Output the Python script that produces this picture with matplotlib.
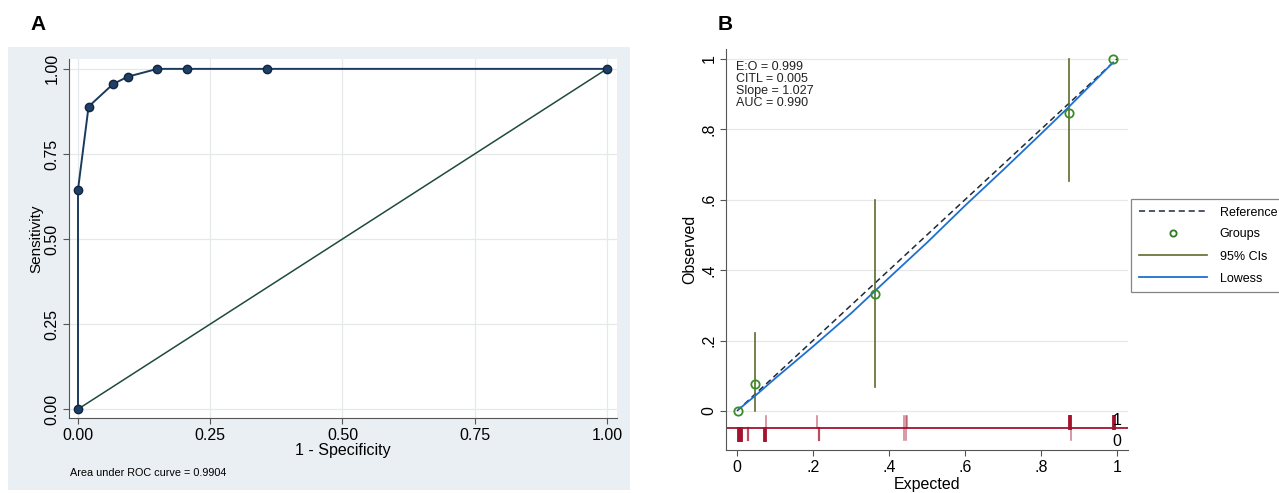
import matplotlib.pyplot as plt
from matplotlib.patches import Rectangle
from matplotlib.lines import Line2D

plt.rcParams['font.family'] = ['Liberation Sans', 'DejaVu Sans']

# ROC curve (panel A)
fpr = [0.0, 0.0, 0.020, 0.066, 0.094, 0.150, 0.207, 0.358, 1.0]
tpr = [0.0, 0.645, 0.889, 0.955, 0.977, 1.0, 1.0, 1.0, 1.0]
auc_text = 'Area under ROC curve = 0.9904'

# calibration (panel B)
grp_x = [0.003, 0.047, 0.362, 0.873, 0.990]
grp_y = [0.0, 0.077, 0.333, 0.846, 1.0]
ci_lo = [None, 0.0, 0.067, 0.652, None]
ci_hi = [None, 0.222, 0.600, 1.0, None]
lowess_x = [0.005, 0.05, 0.1, 0.2, 0.3, 0.4, 0.5, 0.6, 0.7, 0.8, 0.87, 0.99]
lowess_y = [0.005, 0.045, 0.092, 0.183, 0.277, 0.378, 0.478, 0.583, 0.684, 0.787, 0.860, 0.990]
rug1_x = [0.077, 0.210, 0.440, 0.444, 0.448, 0.875, 0.877, 0.990, 0.993]
rug1_n = [1, 1, 1, 1, 1, 3, 3, 3, 3]
rug0_x = [0.002, 0.005, 0.008, 0.011, 0.030, 0.072, 0.074, 0.215, 0.440, 0.446, 0.879]
rug0_n = [3, 3, 3, 3, 2, 3, 3, 2, 1, 1, 1]
stats_text = 'E:O = 0.999\nCITL = 0.005\nSlope = 1.027\nAUC = 0.990'
ticks_b = [0, 0.2, 0.4, 0.6, 0.8, 1.0]
ticklabels_b = ['0', '.2', '.4', '.6', '.8', '1']

fig = plt.figure(figsize=(12.79, 4.93), dpi=100)

# light graph region behind panel A
fig.patches.append(Rectangle((8 / 1279, 1 - 490 / 493), 622 / 1279, 443 / 493,
                             transform=fig.transFigure, facecolor='#eaeff3',
                             edgecolor='none', zorder=-10))

# ---- panel A
ax = fig.add_axes([69 / 1279, 1 - 418 / 493, 548 / 1279, 359 / 493])
ax.set_facecolor('white')
ax.set_xlim(-0.017, 1.019)
ax.set_ylim(-0.026, 1.029)
ticks_a = [0, 0.25, 0.5, 0.75, 1.0]
ax.set_xticks(ticks_a)
ax.set_yticks(ticks_a)
ax.set_xticklabels(['%.2f' % t for t in ticks_a], fontsize=11.5)
ax.set_yticklabels(['%.2f' % t for t in ticks_a], fontsize=11.5, rotation=90, va='center')
ax.grid(color='#e6e9ea', linewidth=0.9)
ax.set_axisbelow(True)
for s in ['top', 'right']:
    ax.spines[s].set_visible(False)
for s in ['left', 'bottom']:
    ax.spines[s].set_color('#555555')
ax.tick_params(length=4, color='#555555', pad=3)
ax.plot([0, 1], [0, 1], color='#1f4a3e', linewidth=1.1)
ax.plot(fpr, tpr, color='#1b3a5e', linewidth=1.4, marker='o', markersize=6,
        markerfacecolor='#1f3f66', markeredgecolor='#102640', zorder=3)
ax.set_xlabel('1 - Specificity', fontsize=11.5, labelpad=0)
ax.set_ylabel('Sensitivity', fontsize=11, labelpad=1)
fig.text(70 / 1279, 1 - 473 / 493, auc_text, fontsize=7.8, va='center')
fig.text(30 / 1279, 1 - 24 / 493, 'A', fontsize=15, fontweight='bold', va='center')

# ---- panel B
bx = fig.add_axes([726 / 1279, 1 - 450 / 493, 402 / 1279, 401 / 493])
bx.set_xlim(-0.029, 1.029)
bx.set_ylim(-0.111, 1.028)
bx.set_xticks(ticks_b)
bx.set_xticklabels(ticklabels_b, fontsize=11.5)
bx.set_yticks(ticks_b)
bx.set_yticklabels(ticklabels_b, fontsize=11.5, rotation=90, va='center')
bx.yaxis.grid(True, color='#e8e8e8', linewidth=0.9)
bx.set_axisbelow(True)
for s in ['top', 'right']:
    bx.spines[s].set_visible(False)
for s in ['left', 'bottom']:
    bx.spines[s].set_color('#555555')
bx.tick_params(length=4, color='#555555', pad=3)

bx.plot([0, 1], [0, 1], color='#1c2b3a', linewidth=1.1, linestyle=(0, (4, 2.5)))
for x, lo, hi in zip(grp_x, ci_lo, ci_hi):
    if lo is not None:
        bx.plot([x, x], [lo, hi], color='#5d6b30', linewidth=1.2)
bx.plot(lowess_x, lowess_y, color='#1f70d0', linewidth=1.3)
bx.plot(grp_x, grp_y, linestyle='none', marker='o', markersize=6,
        markerfacecolor='none', markeredgecolor='#3a8c2a', markeredgewidth=1.3, zorder=4)

# rug of outcomes
rug_y = -0.048
bx.axhline(rug_y, color='#a3122e', linewidth=1.3)
for x, n in zip(rug1_x, rug1_n):
    bx.plot([x, x], [rug_y, -0.015], color='#a3122e', linewidth=0.6 + 0.5 * n,
            alpha=0.35 + 0.2 * n)
for x, n in zip(rug0_x, rug0_n):
    bx.plot([x, x], [rug_y, -0.082], color='#a3122e', linewidth=0.6 + 0.5 * n,
            alpha=0.35 + 0.2 * n)
bx.text(1.0, -0.026, '1', fontsize=11.5, ha='center', va='center')
bx.text(1.0, -0.087, '0', fontsize=11.5, ha='center', va='center')

bx.text(-0.003, 0.995, stats_text, fontsize=9, va='top', ha='left',
        linespacing=1.02, color='#222222')
bx.set_xlabel('Expected', fontsize=11.5, labelpad=2)
bx.set_ylabel('Observed', fontsize=11.5, labelpad=3)
fig.text(718 / 1279, 1 - 24 / 493, 'B', fontsize=15, fontweight='bold', va='center')

handles = [
    Line2D([], [], color='#1c2b3a', linewidth=1.1, linestyle=(0, (4, 2.5))),
    Line2D([], [], linestyle='none', marker='o', markersize=4.5, markerfacecolor='none',
           markeredgecolor='#2f7a22', markeredgewidth=1.3),
    Line2D([], [], color='#5d6b30', linewidth=1.2),
    Line2D([], [], color='#1f70d0', linewidth=1.3),
]
leg = fig.legend(handles, ['Reference', 'Groups', '95% CIs', 'Lowess'],
                 loc='upper left', bbox_to_anchor=(1131 / 1279, 1 - 199 / 493),
                 fontsize=9, frameon=True, fancybox=False, handlelength=5.5,
                 handletextpad=1.0, labelspacing=0.8, borderpad=0.6, borderaxespad=0)
leg.get_frame().set_edgecolor('#666666')
leg.get_frame().set_linewidth(0.9)

fig.savefig('out.png', dpi=100)
